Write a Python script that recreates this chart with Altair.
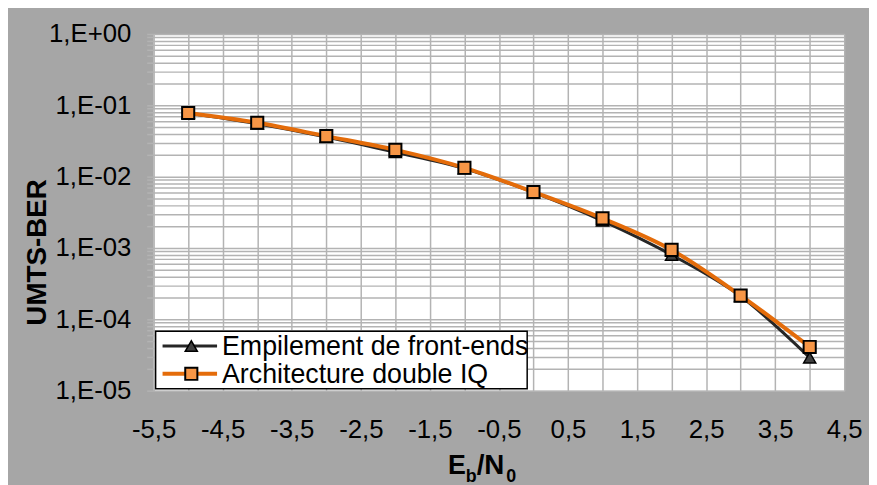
import altair as alt
import pandas as pd

# Data
ebn0 = [-5, -4, -3, -2, -1, 0, 1, 2, 3, 4]
ber_empilement = [0.078, 0.055, 0.036, 0.022, 0.0130, 0.0060, 0.0024, 0.00080, 0.00021, 0.000029]
ber_double_iq = [0.078, 0.057, 0.037, 0.0237, 0.0133, 0.0061, 0.0026, 0.00094, 0.000215, 0.000041]
series_names = ["Empilement de front-ends", "Architecture double IQ"]

x_grid = [v / 2 for v in range(-11, 10)]
y_grid = [m * 10.0 ** k for k in range(-5, 0) for m in range(1, 10)] + [1.0]

df = pd.DataFrame({
    "x": ebn0 * 2,
    "y": ber_empilement + ber_double_iq,
    "s": [series_names[0]] * len(ebn0) + [series_names[1]] * len(ebn0),
})

FONT = "Liberation Sans"
GRID = "#b3b3b3"
ORANGE_LINE = "#e46c0a"
ORANGE_FILL = "#f79646"
DARK = "#262626"

x_scale = alt.Scale(domain=[-5.5, 4.5], nice=False, zero=False)
y_scale = alt.Scale(type="log", domain=[1e-5, 1], nice=False)

x_axis = alt.Axis(
    values=x_grid,
    labelExpr="abs(datum.value % 1) == 0.5 ? (datum.value < 0 ? '-' : '') + replace(toString(abs(datum.value)), '.', ',') : ''",
    grid=True, gridColor=GRID, gridWidth=1.5, gridOpacity=1,
    ticks=False, domain=False,
    labelFont=FONT, labelFontSize=26, labelColor="black", labelPadding=26,
    labelOverlap=False, labelFlush=False, title=None,
)
y_axis = alt.Axis(
    values=y_grid,
    labelExpr="abs(log(datum.value)/LN10 - round(log(datum.value)/LN10)) < 1e-6 ? '1,E' + (datum.value >= 1 ? '+' : '-') + (abs(round(log(datum.value)/LN10)) < 10 ? '0' : '') + abs(round(log(datum.value)/LN10)) : ''",
    grid=True, gridColor=GRID, gridWidth=1.5, gridOpacity=1,
    ticks=True, tickColor=GRID, tickSize=7, tickWidth=1.5, domain=False,
    labelFont=FONT, labelFontSize=26, labelColor="black", labelPadding=16,
    labelOverlap=False, labelFlush=False,
    title="UMTS-BER", titleFont=FONT, titleFontSize=28, titleFontWeight="bold",
    titleColor="black", titlePadding=-3, titleY=220,
)

base = alt.Chart(df)
enc_x = alt.X("x:Q", scale=x_scale, axis=x_axis)
enc_y = alt.Y("y:Q", scale=y_scale, axis=y_axis)

s0 = base.transform_filter(alt.datum.s == series_names[0])
s1 = base.transform_filter(alt.datum.s == series_names[1])

line0 = s0.mark_line(color=DARK, strokeWidth=3, interpolate="monotone").encode(x=enc_x, y=enc_y)
pts0 = s0.mark_point(shape="triangle-up", filled=True, fill="#404040", stroke="black",
                     strokeWidth=1.5, size=150, opacity=1).encode(x=enc_x, y=enc_y)
line1 = s1.mark_line(color=ORANGE_LINE, strokeWidth=4, interpolate="monotone").encode(x=enc_x, y=enc_y)
pts1 = s1.mark_point(shape="square", filled=True, fill=ORANGE_FILL, stroke="black",
                     strokeWidth=2, size=150, opacity=1).encode(x=enc_x, y=enc_y)

one = alt.Chart(pd.DataFrame({"k": [0]}))

# Legend (manual, line + marker)
leg_box = one.mark_rect(fill="white", stroke="black", strokeWidth=1.5).encode(
    x=alt.value(2), x2=alt.value(377), y=alt.value(300), y2=alt.value(358))
leg_l0 = one.mark_rule(color=DARK, strokeWidth=3).encode(
    x=alt.value(9), x2=alt.value(64), y=alt.value(315))
leg_p0 = one.mark_point(shape="triangle-up", filled=True, fill="#404040", stroke="black",
                        strokeWidth=1.5, size=150, opacity=1).encode(x=alt.value(38), y=alt.value(315))
leg_t0 = one.mark_text(align="left", baseline="middle", font=FONT, fontSize=27, color="black").encode(
    x=alt.value(69), y=alt.value(316), text=alt.value(series_names[0]))
leg_l1 = one.mark_rule(color=ORANGE_LINE, strokeWidth=4).encode(
    x=alt.value(9), x2=alt.value(64), y=alt.value(343))
leg_p1 = one.mark_point(shape="square", filled=True, fill=ORANGE_FILL, stroke="black",
                        strokeWidth=2, size=150, opacity=1).encode(x=alt.value(38), y=alt.value(343))
leg_t1 = one.mark_text(align="left", baseline="middle", font=FONT, fontSize=27, color="black").encode(
    x=alt.value(69), y=alt.value(344), text=alt.value(series_names[1]))

# X title with subscripts: E_b/N_0
def tpart(txt, x, y, size):
    return one.mark_text(align="left", baseline="alphabetic", font=FONT, fontSize=size,
                         fontWeight="bold", color="black").encode(
        x=alt.value(x), y=alt.value(y), text=alt.value(txt))

xt = [tpart("E", 297, 444, 27), tpart("b", 315, 452, 18), tpart("/N", 326, 444, 28), tpart("0", 356, 452, 18)]

chart = alt.layer(line0, pts0, line1, pts1, leg_box, leg_l0, leg_p0, leg_t0, leg_l1, leg_p1, leg_t1, *xt).properties(
    width=697, height=360,
    autosize=alt.AutoSizeParams(type="none"),
    padding={"left": 147, "top": 24, "right": 25, "bottom": 93},
).configure(background="#a6a6a6").configure_view(fill="white", stroke=None)

chart.save("out.html", embed_options={"renderer": "svg", "actions": False})
